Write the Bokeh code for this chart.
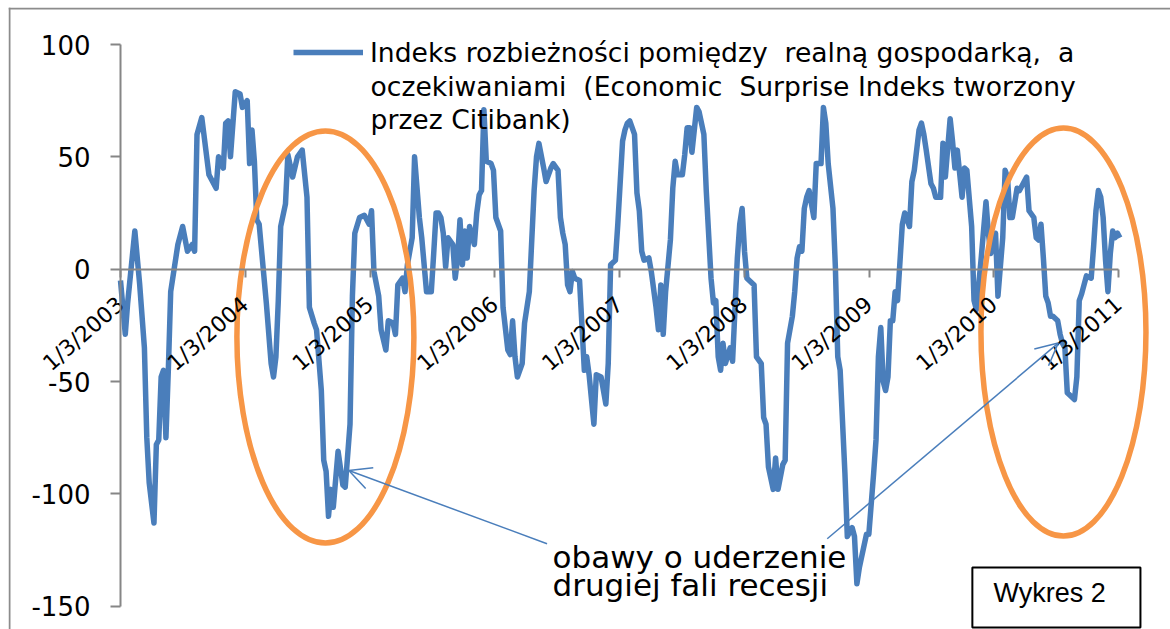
import pandas as pd
from bokeh.plotting import figure
from bokeh.models import (Range1d, FixedTicker, Legend, LegendItem, Label, Arrow,
                          OpenHead, BoxAnnotation, ColumnDataSource, Span)
from bokeh.embed import file_html
from bokeh.resources import INLINE

# ---------------- data (weekly, weeks counted from 1/3/2003) ----------------
START = pd.Timestamp("2003-01-03")
weeks = [0, 2, 3, 6, 8, 10, 11, 12, 14, 15, 16, 17, 18, 19, 20, 21, 24, 26, 28, 30,
         31, 32, 34, 37, 40, 41, 43, 44, 45, 46, 48, 50, 51, 53, 54, 55, 56, 57, 58, 61,
         63, 64, 65, 66, 67, 69, 70, 72, 74, 76, 78, 79, 81, 82, 84, 85, 86, 87, 88, 89,
         91, 93, 94, 96, 97, 98, 100, 102, 104, 105, 106, 108, 109, 111, 112, 114, 115, 116, 118, 119,
         120, 122, 123, 125, 126, 127, 128, 130, 131, 132, 133, 134, 135, 136, 137, 139, 140, 141, 142, 143,
         144, 145, 146, 148, 149, 150, 151, 152, 153, 155, 156, 157, 159, 160, 162, 163, 164, 165, 166, 168,
         169, 171, 173, 174, 175, 177, 178, 180, 181, 183, 184, 185, 186, 187, 188, 189, 190, 192, 194, 195,
         196, 198, 199, 201, 202, 203, 204, 205, 207, 208, 210, 211, 212, 213, 214, 215, 216, 217, 218, 219,
         221, 222, 224, 225, 226, 227, 228, 230, 231, 232, 233, 235, 236, 237, 238, 239, 240, 241, 242, 244,
         245, 247, 248, 249, 250, 251, 252, 253, 255, 256, 258, 259, 260, 261, 262, 263, 265, 266, 268, 269,
         270, 271, 272, 273, 274, 275, 277, 278, 279, 281, 282, 283, 284, 285, 286, 287, 288, 290, 291, 293,
         294, 295, 296, 298, 299, 300, 301, 303, 304, 306, 307, 308, 309, 310, 312, 313, 315, 316, 317, 318,
         319, 320, 321, 322, 323, 324, 325, 327, 328, 330, 331, 332, 334, 335, 336, 337, 339, 340, 341, 343,
         344, 345, 346, 347, 348, 349, 350, 352, 353, 354, 356, 357, 358, 360, 362, 363, 364, 366, 367, 369,
         370, 371, 372, 373, 375, 376, 378, 379, 380, 382, 383, 384, 385, 386, 387, 388, 389, 390, 392, 393,
         394, 395, 396, 398, 399, 400, 401, 402, 403, 404, 406, 407, 408, 409, 410, 411, 412, 413, 414, 415,
         416, 417, 418]
values = [-5, -29, -15, 17, -6.5, -35, -75, -95, -113, -78, -76, -48, -45, -75, -45, -10, 11, 19, 8, 11,
          8, 60, 67.5, 42, 36, 50, 45, 65, 66, 50, 79, 78, 72, 75, 47, 62, 48, 22, 20, -15,
          -42, -48, -39, -14, 19, 29, 51, 41, 50, 53, 32, -17, -24, -27, -54, -85, -90, -110, -98, -106,
          -81, -96, -97, -69, -12, 16, 23, 24, 20, 26, -1, -12, -27, -36, -23, -24, -29, -7, -4, -10,
          2, 14, 50, 23, 14, 2, -10, -10, 7, 25, 25, 23, 16, 1, 14, 11, -4, 5, 22, 2,
          17, 5, 19, 11, 25, 33, 35, 71, 48, 47, 44, 23, 17, -17, -36, -38, -23, -39, -48, -42,
          -24, -10, 35, 50, 56, 45, 39, 45, 47, 44, 23, 16, 11, -7, -10, -1, -4, -5, -45, -39,
          -47, -69, -47, -48, -54, -60, -42, 2, 4, 20, 57, 62, 65, 66, 63, 60, 34, 26, 8, 4,
          5, -1, -17, -27, -7, -29, -10, 13, 36, 48, 42, 42, 51, 63, 63, 52, 62, 72, 70, 60,
          35, -4, -15, -14, -39, -45, -33, -42, -35, -41, 5, 20, 27, 8, -4, -5, -7, -39, -42, -66,
          -69, -88, -93, -98, -84, -98, -87, -85, -33, -21, -10, 5, 10, 8, 27, 32, 35, 23, 47, 47,
          72, 65, 47, 27, 1, -39, -45, -91, -119, -115, -119, -140, -133, -128, -118, -118, -91, -76, -39, -26,
          -50, -54, -48, -23, -23, -10, -14, 20, 25, 19, 39, 44, 62, 65, 60, 53, 38, 36, 32, 32,
          56, 41, 54, 67, 57, 45, 53, 32, 45, 44, 19, -14, -18, 5, 30, 16, 7, 16, -12, 14,
          44, 41, 23, 23, 36, 35, 39, 41, 26, 23, 14, 13, 20, 5, -12, -15, -21, -21, -23, -29,
          -33, -35, -55, -57, -58, -48, -14, -11, -7, -3, -4, 10, 26, 35, 32, 23, 4, -10, 7, 17,
          14, 16, 14]

tick_years = [2003, 2004, 2005, 2006, 2007, 2008, 2009, 2010, 2011]
tick_labels = ["1/3/2003", "1/3/2004", "1/3/2005", "1/3/2006", "1/3/2007",
               "1/3/2008", "1/3/2009", "1/3/2010", "1/3/2011"]
y_ticks = [-150, -100, -50, 0, 50, 100]
y_tick_labels = ["-150", "-100", "-50", "0", "50", "100"]

NB = "\u00a0"
legend_lines = ["Indeks rozbieżności pomiędzy" + NB + " realną gospodarką," + NB + " a",
                "oczekiwaniami" + NB + " (Economic" + NB + " Surprise Indeks tworzony",
                "przez Citibank)"]
note_lines = ["obawy o uderzenie", "drugiej fali recesji"]
box_text = "Wykres 2"

# annotation anchors (week, value)
ellipse_weeks = [85.7, 394.4]
ellipse_vals = [-30.2, -28.0]
arrow1 = (178.4, -122.2, 95.5, -89.6)
arrow2 = (295.6, -120.0, 392.2, -32.9)

BLUE = "#4a7ebb"
ORANGE = "#f79646"
GREY = "#868686"
BORDER = "#8c8c8c"


def wdate(w):
    return START + pd.Timedelta(days=7 * w)


def ms(ts):
    return int(ts.value // 10**6)


src = ColumnDataSource(dict(x=pd.DatetimeIndex([wdate(w) for w in weeks]), y=values))

x_start = START - pd.Timedelta(days=327.9)
x_end = START + pd.Timedelta(days=3074.2)
y_start, y_end = -160.37, 116.47

p = figure(width=1170, height=629, x_axis_type="datetime", output_backend="svg",
           toolbar_location=None, x_range=Range1d(ms(x_start), ms(x_end)),
           y_range=Range1d(y_start, y_end),
           min_border_left=8, min_border_top=7, min_border_right=0, min_border_bottom=0)
p.grid.visible = False
p.outline_line_color = None
p.background_fill_color = "white"
p.border_fill_color = "white"

# chart-area border (only the top and left edges fall inside the picture)
p.add_layout(Span(location=y_end - 0.45, dimension="width", line_color=BORDER, line_width=2))
p.add_layout(Span(location=ms(x_start + pd.Timedelta(days=2.9)), dimension="height",
                  line_color=BORDER, line_width=2))

tick_ms = [ms(pd.Timestamp(f"{y}-01-03")) for y in tick_years]

xa = p.xaxis[0]
xa.fixed_location = 0
xa.ticker = FixedTicker(ticks=tick_ms)
xa.major_label_overrides = {t: lab for t, lab in zip(tick_ms, tick_labels)}
xa.bounds = (tick_ms[0], tick_ms[-1])
xa.major_label_orientation = 0.72
xa.major_tick_out = 8
xa.major_tick_in = 0
xa.minor_tick_line_color = None
xa.axis_line_color = GREY
xa.axis_line_width = 2
xa.major_tick_line_color = GREY
xa.major_tick_line_width = 2
xa.major_label_text_font = "DejaVu Sans"
xa.major_label_text_font_size = "22px"
xa.major_label_text_color = "black"
xa.major_label_standoff = 24

ya = p.yaxis[0]
ya.fixed_location = ms(START)
ya.ticker = FixedTicker(ticks=y_ticks)
ya.major_label_overrides = {t: lab for t, lab in zip(y_ticks, y_tick_labels)}
ya.bounds = (y_ticks[0], y_ticks[-1])
ya.major_tick_out = 10
ya.major_tick_in = 0
ya.minor_tick_line_color = None
ya.axis_line_color = GREY
ya.axis_line_width = 2
ya.major_tick_line_color = GREY
ya.major_tick_line_width = 2
ya.major_label_text_font = "DejaVu Sans"
ya.major_label_text_font_size = "26px"
ya.major_label_text_color = "black"
ya.major_label_standoff = 20

r = p.line("x", "y", source=src, line_color=BLUE, line_width=5.5, line_join="round")

legend = Legend(items=[LegendItem(label=legend_lines[0], renderers=[r])],
                location=(285, 561), glyph_width=70, glyph_height=32, label_height=32,
                label_standoff=7, padding=0, margin=0, spacing=0,
                border_line_color=None, background_fill_alpha=0,
                label_text_font="DejaVu Sans", label_text_font_size="26.6px",
                label_text_color="black")
p.add_layout(legend)

for txt, val in zip(legend_lines[1:], [81.3, 66.6]):
    p.add_layout(Label(x=ms(wdate(104.6)), y=val, text=txt, text_font="DejaVu Sans",
                       text_font_size="26.6px", text_baseline="alphabetic", text_color="black"))

# orange ellipses
p.ellipse(x=pd.DatetimeIndex([wdate(w) for w in ellipse_weeks]), y=ellipse_vals,
          width=[177, 165], height=[412, 408], width_units="screen", height_units="screen",
          fill_color=None, line_color=ORANGE, line_width=5.5)

for (w0, v0, w1, v1) in [arrow1, arrow2]:
    p.add_layout(Arrow(x_start=ms(wdate(w0)), y_start=v0, x_end=ms(wdate(w1)), y_end=v1,
                       line_color=BLUE, line_width=1.5,
                       end=OpenHead(size=22, line_color=BLUE, line_width=1.5)))

for txt, val in zip(note_lines, [-127.9, -140.4]):
    p.add_layout(Label(x=ms(wdate(180.7)), y=val, text=txt, text_font="DejaVu Sans",
                       text_font_size="31px", text_baseline="alphabetic", text_color="black"))

p.add_layout(BoxAnnotation(left=ms(wdate(356.3)), right=ms(wdate(426.6)), top=-132.8, bottom=-159.5,
                           fill_color="white", fill_alpha=1, line_color="black", line_alpha=1,
                           line_width=2))
p.add_layout(Label(x=ms(wdate(365.1)), y=-144.3, text=box_text, text_font="Liberation Sans",
                   text_font_size="27px", text_baseline="alphabetic", text_color="black"))

open("out.html", "w").write(file_html(p, INLINE))
